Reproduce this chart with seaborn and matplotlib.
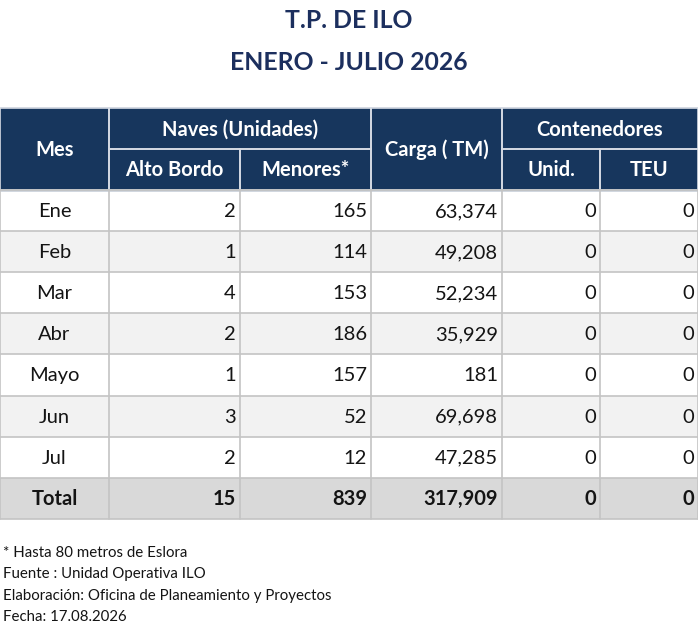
import numpy as np
import matplotlib

matplotlib.use("Agg")
import matplotlib.pyplot as plt
from matplotlib.colors import ListedColormap
from matplotlib.patches import Rectangle
import seaborn as sns

meses = ["Ene", "Feb", "Mar", "Abr", "Mayo", "Jun", "Jul"]
alto_bordo = [2, 1, 4, 2, 1, 3, 2]
menores = [165, 114, 153, 186, 157, 52, 12]
carga_tm = [63374, 49208, 52234, 35929, 181, 69698, 47285]
cont_unid = [0, 0, 0, 0, 0, 0, 0]
cont_teu = [0, 0, 0, 0, 0, 0, 0]

titulo = ["T.P. DE ILO", "ENERO - JULIO 2026"]
notas = [
    "* Hasta 80 metros de Eslora",
    "Fuente : Unidad Operativa ILO",
    "Elaboración: Oficina de Planeamiento y Proyectos",
    "Fecha: 17.08.2026",
]

NAVY = "#17365d"
TITLE_COLOR = "#1c2f5e"
TEXT = "#141414"
GRID = "#c4c4c4"

W, H = 698, 628
col_x = [0, 109, 240, 371, 502, 600, 698]
head_top, head_mid, head_bot = 108, 149, 190
row_h = 41.1

sns.set_theme(style="white")
plt.rcParams["font.family"] = ["Lato", "DejaVu Sans"]

fig = plt.figure(figsize=(W / 100, H / 100), dpi=100)

# body row shading through a one-column heatmap
shade = [0, 1, 0, 1, 0, 1, 0, 2]
n_rows = len(shade)
body_bot = head_bot + n_rows * row_h
ax_body = fig.add_axes([0, (H - body_bot) / H, 1, (body_bot - head_bot) / H])
sns.heatmap(
    np.array(shade).reshape(-1, 1),
    ax=ax_body,
    cmap=ListedColormap(["#ffffff", "#f2f2f2", "#d9d9d9"]),
    vmin=-0.5,
    vmax=2.5,
    cbar=False,
    xticklabels=False,
    yticklabels=False,
)
ax_body.axis("off")

ax = fig.add_axes([0, 0, 1, 1])
ax.set_xlim(0, W)
ax.set_ylim(H, 0)
ax.axis("off")

# title
ax.text(W / 2, 21, titulo[0], ha="center", va="center", fontsize=17.8,
        fontweight="bold", color=TITLE_COLOR)
ax.text(W / 2, 63, titulo[1], ha="center", va="center", fontsize=17.8,
        fontweight="bold", color=TITLE_COLOR)

# header block
ax.add_patch(Rectangle((0, head_top), W, head_bot - head_top, color=NAVY, zorder=1))
head_cells = [
    ("Mes", 0, 1, head_top, head_bot),
    ("Naves (Unidades)", 1, 3, head_top, head_mid),
    ("Alto Bordo", 1, 2, head_mid, head_bot),
    ("Menores*", 2, 3, head_mid, head_bot),
    ("Carga ( TM)", 3, 4, head_top, head_bot),
    ("Contenedores", 4, 6, head_top, head_mid),
    ("Unid.", 4, 5, head_mid, head_bot),
    ("TEU", 5, 6, head_mid, head_bot),
]
for label, c0, c1, y0, y1 in head_cells:
    x0, x1 = col_x[c0], col_x[c1]
    ax.add_patch(Rectangle((x0, y0), x1 - x0, y1 - y0, fill=False,
                           edgecolor="#d6dbe4", lw=1.2, zorder=2))
    ax.text((x0 + x1) / 2, (y0 + y1) / 2 + 1, label, ha="center", va="center",
            fontsize=14.5, fontweight="bold", color="white", zorder=3)

# body grid
for i in range(n_rows + 1):
    y = head_bot + i * row_h
    ax.plot([0, W], [y, y], color=GRID, lw=1.2, zorder=2)
for x in col_x:
    ax.plot([x, x], [head_bot, body_bot], color=GRID, lw=1.2, zorder=2)

# body text
rows = list(zip(meses, alto_bordo, menores, carga_tm, cont_unid, cont_teu))
total = ("Total", sum(alto_bordo), sum(menores), sum(carga_tm),
         sum(cont_unid), sum(cont_teu))
rows.append(total)
for i, row in enumerate(rows):
    yc = head_bot + (i + 0.5) * row_h + 1
    weight = "bold" if i == len(rows) - 1 else "normal"
    ax.text(col_x[1] / 2, yc, row[0], ha="center", va="center", fontsize=14.5,
            fontweight=weight, color=TEXT, zorder=3)
    for j, val in enumerate(row[1:], start=1):
        ax.text(col_x[j + 1] - 4, yc, f"{val:,}", ha="right", va="center",
                fontsize=14.5, fontweight=weight, color=TEXT, zorder=3)

# footnotes
for k, nota in enumerate(notas):
    ax.text(3, 553 + k * 21.3, nota, ha="left", va="center", fontsize=10.8,
            color=TEXT)

fig.savefig("out.png", dpi=100)
